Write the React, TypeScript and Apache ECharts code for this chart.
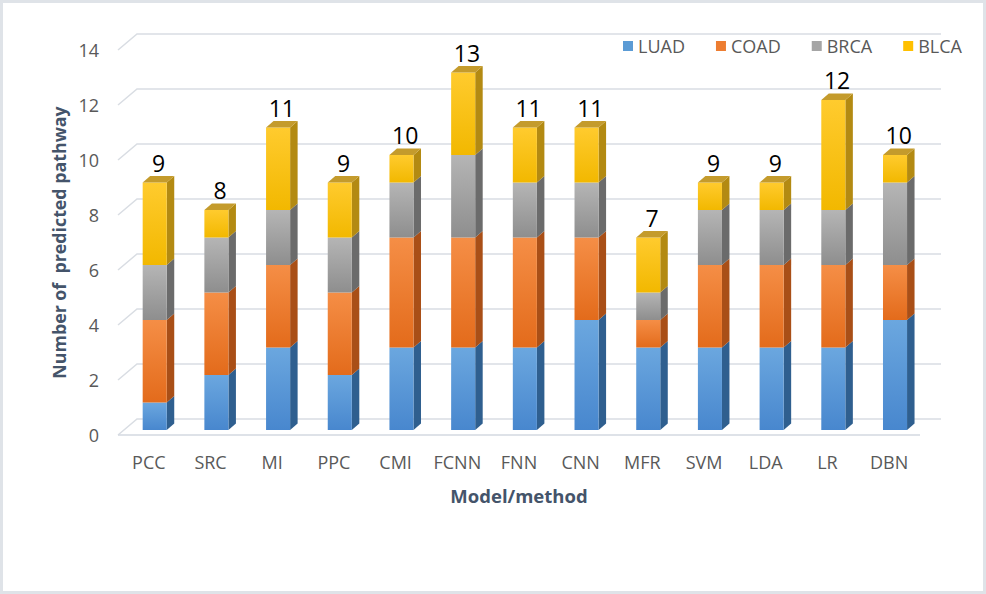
import React, { useEffect, useRef } from "react";
import * as echarts from "echarts";

const categories = ["PCC", "SRC", "MI", "PPC", "CMI", "FCNN", "FNN", "CNN", "MFR", "SVM", "LDA", "LR", "DBN"];
const LUAD = [1, 2, 3, 2, 3, 3, 3, 4, 3, 3, 3, 3, 4];
const COAD = [3, 3, 3, 3, 4, 4, 4, 3, 1, 3, 3, 3, 2];
const BRCA = [2, 2, 2, 2, 2, 3, 2, 2, 1, 2, 2, 2, 3];
const BLCA = [3, 1, 3, 2, 1, 3, 2, 2, 2, 1, 1, 4, 1];
const seriesNames = ["LUAD", "COAD", "BRCA", "BLCA"];
const yTicks = [0, 2, 4, 6, 8, 10, 12, 14];

const FONT = "'Open Sans', 'Noto Sans', sans-serif";

const palette = [
  { legend: "#5b9bd5", top: "#6ba7df", bottom: "#4887ce", side: "#2f5f8f", cap: "#3b74aa" },
  { legend: "#ed7d31", top: "#f58e46", bottom: "#e36b1b", side: "#a94f17", cap: "#c05c1c" },
  { legend: "#a5a5a5", top: "#b5b5b5", bottom: "#8e8e8e", side: "#6b6b6b", cap: "#8a8a8a" },
  { legend: "#ffc000", top: "#ffcb2e", bottom: "#f2b800", side: "#b38a12", cap: "#c49b2c" },
];

export default function App() {
  const ref = useRef<HTMLDivElement>(null);

  useEffect(() => {
    if (!ref.current) return;
    const chart = echarts.init(ref.current, undefined, { renderer: "svg" });

    const values = [LUAD, COAD, BRCA, BLCA];
    const starts: number[][] = values.map((_, s) =>
      categories.map((_, i) => values.slice(0, s).reduce((acc, arr) => acc + arr[i], 0))
    );
    const totals = categories.map((_, i) => values.reduce((acc, arr) => acc + arr[i], 0));

    const geom = (api: any, i: number, a: number, b: number) => {
      const pa = api.coord([i, a]);
      const pb = api.coord([i, b]);
      const band = api.size([1, 0])[0];
      const w = band * 0.39;
      const ox = band * 0.095;
      const oy = 5;
      const dx = 7.5;
      const dy = 6.5;
      const L = pa[0] + ox - w / 2;
      const R = L + w;
      return { L, R, yb: pa[1] - oy, yt: pb[1] - oy, dx, dy };
    };

    const barSeries = values.map((arr, s) => ({
      type: "custom",
      name: seriesNames[s],
      z: 3,
      itemStyle: { color: palette[s].legend },
      encode: { x: 0, y: [1, 2] },
      data: categories.map((_, i) => [i, starts[s][i], starts[s][i] + arr[i], s === values.length - 1 ? 1 : 0]),
      renderItem: (params: any, api: any) => {
        const i = api.value(0);
        const a = api.value(1);
        const b = api.value(2);
        const isTop = api.value(3) === 1;
        const g = geom(api, i, a, b);
        const c = palette[s];
        const children: any[] = [
          {
            type: "polygon",
            shape: { points: [[g.R, g.yt], [g.R + g.dx, g.yt - g.dy], [g.R + g.dx, g.yb - g.dy], [g.R, g.yb]] },
            style: { fill: c.side },
          },
          {
            type: "rect",
            shape: { x: g.L, y: g.yt, width: g.R - g.L, height: g.yb - g.yt },
            style: {
              fill: new echarts.graphic.LinearGradient(0, 0, 0, 1, [
                { offset: 0, color: c.top },
                { offset: 1, color: c.bottom },
              ]),
            },
          },
        ];
        if (isTop) {
          children.push({
            type: "polygon",
            shape: { points: [[g.L, g.yt], [g.L + g.dx, g.yt - g.dy], [g.R + g.dx, g.yt - g.dy], [g.R, g.yt]] },
            style: { fill: c.cap },
          });
        }
        return { type: "group", children };
      },
    }));

    const gridSeries = {
      type: "custom",
      name: "grid",
      silent: true,
      z: 1,
      encode: { x: 0, y: 1 },
      data: yTicks.map((t) => [0, t]),
      renderItem: (params: any, api: any) => {
        const t = api.value(1);
        const y = api.coord([0, t])[1];
        const cs = params.coordSys;
        const bx = 19;
        const by = 16;
        const style = { stroke: "#d9dde3", lineWidth: 1.5, fill: "none" };
        const children: any[] = [
          { type: "polyline", shape: { points: [[cs.x, y], [cs.x + bx, y - by], [cs.x + cs.width + 21, y - by]] }, style },
        ];
        if (t === 0) {
          children.push({ type: "line", shape: { x1: cs.x, y1: y, x2: cs.x + cs.width, y2: y }, style: { stroke: "#d3d9e1", lineWidth: 1.5 } });
        }
        return { type: "group", children };
      },
    };

    const totalSeries = {
      type: "custom",
      name: "total",
      silent: true,
      z: 4,
      encode: { x: 0, y: 1 },
      data: categories.map((_, i) => [i, totals[i]]),
      renderItem: (params: any, api: any) => {
        const i = api.value(0);
        const t = api.value(1);
        const g = geom(api, i, 0, t);
        return {
          type: "text",
          style: {
            text: String(t),
            x: (g.L + g.R + g.dx) / 2,
            y: g.yt - g.dy - 2,
            align: "center",
            verticalAlign: "bottom",
            fill: "#000000",
            fontSize: 23,
            fontFamily: FONT,
          },
        };
      },
    };

    chart.setOption({
      animation: false,
      backgroundColor: "#ffffff",
      textStyle: { fontFamily: FONT },
      graphic: [
        {
          type: "rect",
          shape: { x: 1.5, y: 1.5, width: 983, height: 591 },
          style: { fill: "none", stroke: "#dfe3e8", lineWidth: 3 },
          silent: true,
        },
      ],
      legend: {
        data: seriesNames,
        left: 618,
        top: 32,
        itemWidth: 10,
        itemHeight: 10,
        itemGap: 31,
        icon: "rect",
        textStyle: { color: "#595959", fontSize: 18, fontFamily: FONT },
      },
      grid: { left: 118, right: 66, top: 50, bottom: 159, containLabel: false },
      xAxis: {
        type: "category",
        data: categories,
        axisLine: { show: false },
        axisTick: { show: false },
        splitLine: { show: false },
        axisLabel: { interval: 0, color: "#595959", fontSize: 18, margin: 18, fontFamily: FONT },
        name: "Model/method",
        nameLocation: "middle",
        nameGap: 51,
        nameTextStyle: { color: "#44546a", fontSize: 18.5, fontWeight: "bold", fontFamily: FONT },
      },
      yAxis: {
        type: "value",
        min: 0,
        max: 14,
        interval: 2,
        axisLine: { show: false },
        axisTick: { show: false },
        splitLine: { show: false },
        axisLabel: { color: "#595959", fontSize: 18, margin: 19, fontFamily: FONT },
        name: "Number of  predicted pathway",
        nameLocation: "middle",
        nameGap: 47,
        nameRotate: 90,
        nameTextStyle: { color: "#44546a", fontSize: 17.8, fontWeight: "bold", fontFamily: FONT },
      },
      series: [gridSeries, ...barSeries, totalSeries],
    });

    return () => chart.dispose();
  }, []);

  return (
    <div
      ref={ref}
      style={{ position: "absolute", left: 0, top: 0, width: 986, height: 594, background: "#ffffff" }}
    />
  );
}
